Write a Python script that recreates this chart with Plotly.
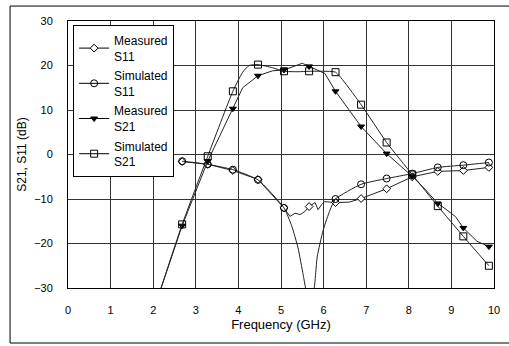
import plotly.graph_objects as go

# ---- data ----
MARKER_F = [2.68, 3.28, 3.87, 4.46, 5.07, 5.66, 6.28, 6.88, 7.48, 8.08, 8.68, 9.28, 9.88]

f_ms11 = [2.68, 3.28, 3.87, 4.46, 5.07, 5.21, 5.33, 5.45, 5.56, 5.66, 5.8, 5.87, 5.96, 6.02, 6.28, 6.6, 6.88, 7.48, 8.08, 8.68, 9.28, 9.88]
ms11 = [-1.6, -2.2, -3.6, -5.6, -12.0, -13.9, -13.2, -13.5, -12.8, -11.7, -10.8, -12.4, -11.2, -10.6, -10.8, -10.7, -9.9, -7.7, -5.0, -3.8, -3.6, -2.9]

f_ss11 = [2.68, 3.28, 3.87, 4.46, 5.07, 5.25, 5.4, 5.52, 5.6, 5.66, 5.76, 5.85, 5.99, 6.15, 6.28, 6.88, 7.48, 8.08, 8.68, 9.28, 9.88]
ss11 = [-1.5, -2.2, -3.4, -5.7, -12.0, -16.0, -21.0, -27.0, -31.0, -32.0, -31.0, -23.0, -17.0, -12.5, -10.0, -6.7, -5.4, -4.3, -2.9, -2.4, -1.8]

f_ms21 = [2.15, 2.68, 3.28, 3.87, 4.1, 4.46, 4.8, 5.07, 5.3, 5.5, 5.66, 5.84, 6.03, 6.28, 6.88, 7.48, 8.08, 8.4, 8.68, 8.9, 9.1, 9.28, 9.6, 9.88]
ms21 = [-31.0, -16.0, -1.5, 10.3, 15.0, 17.7, 18.8, 19.0, 19.8, 20.5, 19.8, 19.1, 18.2, 14.2, 6.3, 0.2, -4.9, -8.0, -11.0, -12.5, -14.0, -16.5, -19.5, -20.7]

f_ss21 = [2.15, 2.68, 3.28, 3.87, 4.1, 4.25, 4.46, 4.8, 5.07, 5.4, 5.66, 6.0, 6.28, 6.88, 7.48, 8.08, 8.68, 9.28, 9.88]
ss21 = [-31.0, -15.7, -0.4, 14.2, 18.5, 20.0, 20.2, 19.5, 18.7, 18.6, 18.7, 18.7, 18.5, 11.2, 2.7, -4.5, -11.6, -18.4, -25.0]

x_ticks = [0, 1, 2, 3, 4, 5, 6, 7, 8, 9, 10]
y_ticks = [-30, -20, -10, 0, 10, 20, 30]

series = [
    ("Measured<br>S11", f_ms11, ms11, "diamond", 6, "white", False),
    ("Simulated<br>S11", f_ss11, ss11, "circle-open", 7, "black", True),
    ("Measured<br>S21", f_ms21, ms21, "triangle-down", 6, "black", False),
    ("Simulated<br>S21", f_ss21, ss21, "square-open", 7, "black", True),
]

FONT = "Liberation Sans, Arial, sans-serif"
fig = go.Figure()
for i, (name, fx, fy, sym, size, fill, smooth) in enumerate(series):
    grp = "g%d" % i
    fig.add_trace(go.Scatter(
        x=fx, y=fy, mode="lines", showlegend=False, hoverinfo="skip", legendgroup=grp,
        line=dict(color="#222222", width=1, shape="spline" if smooth else "linear",
                  smoothing=0.5 if smooth else None)))
    mx = [x for x in fx if x in MARKER_F]
    my = [y for x, y in zip(fx, fy) if x in MARKER_F]
    mk = dict(symbol=sym, size=size, color=fill, line=dict(color="black", width=1))
    fig.add_trace(go.Scatter(x=mx, y=my, mode="markers", showlegend=False, legendgroup=grp,
                             marker=mk, cliponaxis=True))
    fig.add_trace(go.Scatter(x=[None], y=[None], mode="lines+markers", name=name, legendgroup=grp,
                             line=dict(color="black", width=1), marker=mk))

axis_common = dict(showline=True, linecolor="black", linewidth=1, mirror=True,
                   showgrid=True, gridcolor="#333333", gridwidth=1, zeroline=False,
                   ticks="", automargin=False,
                   tickfont=dict(family=FONT, size=11, color="black"))
fig.update_xaxes(range=[0, 10], tickvals=x_ticks, ticklabelstandoff=12,
                 title=dict(text="Frequency (GHz)", font=dict(family=FONT, size=13, color="black"),
                            standoff=4), **axis_common)
fig.update_yaxes(range=[-30, 30], tickvals=y_ticks, ticklabelstandoff=12,
                 title=dict(text="S21, S11 (dB)", font=dict(family=FONT, size=12, color="black"),
                            standoff=4), **axis_common)

fig.update_layout(
    width=509, height=346,
    margin=dict(l=68, r=15, t=21, b=58),
    paper_bgcolor="white", plot_bgcolor="white",
    font=dict(family=FONT, size=12, color="black"),
    showlegend=True,
    legend=dict(x=0.012, y=0.985, xanchor="left", yanchor="top",
                bgcolor="white", bordercolor="black", borderwidth=1,
                itemwidth=30, font=dict(family=FONT, size=12, color="black"),
                tracegroupgap=1),
    shapes=[dict(type="rect", xref="paper", yref="paper",
                 x0=-0.136, x1=1.2, y0=-0.206, y1=1.056,
                 line=dict(color="black", width=1), layer="above")],
)

fig.write_html("out.html", config={"displayModeBar": False},
               post_script="document.body.style.margin='0';document.body.style.padding='0';")
